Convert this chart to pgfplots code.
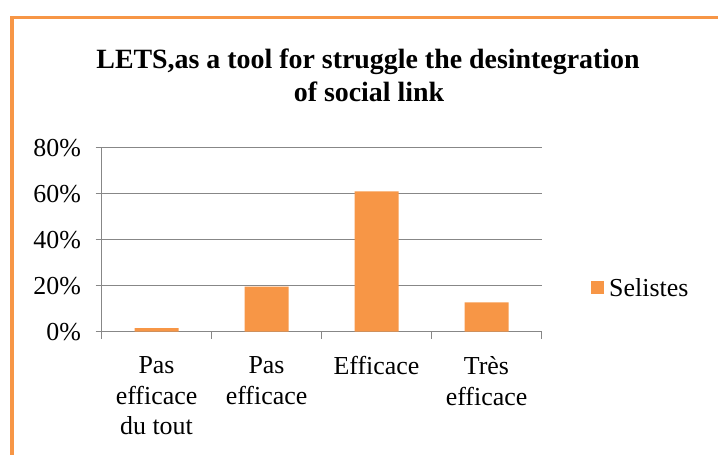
\documentclass[border=0pt]{standalone}
\usepackage{pgfplots}
\pgfplotsset{compat=1.18}
\usepackage{fontspec}
\setmainfont{Liberation Serif}
\definecolor{barorange}{HTML}{F79646}
\definecolor{gridgray}{HTML}{878787}

\begin{document}
\begin{tikzpicture}[x=1bp,y=1bp]
\path[use as bounding box] (0,0) rectangle (718,455);
% orange frame (only top and left edges visible)
\draw[barorange, line width=3bp] (12,437.5) -- (730,437.5);
\draw[barorange, line width=4.5bp] (12,-5) -- (12,439);
% title
\node[anchor=base, font=\fontsize{28}{33}\selectfont\bfseries, inner sep=0] at (368,386) {LETS,as a tool for struggle the desintegration};
\node[anchor=base, font=\fontsize{28}{33}\selectfont\bfseries, inner sep=0] at (369,353) {of social link};

\begin{axis}[
	at={(101.5bp,123.3bp)}, anchor=south west,
	scale only axis,
	width=440bp, height=184bp,
	xmin=-0.5, xmax=3.5,
	ymin=0, ymax=80,
	axis lines*=left,
	axis line style={gridgray, line width=1.2bp},
	ytick={0,20,40,60,80},
	yticklabel={\pgfmathprintnumber{\tick}\%},
	ymajorgrids=true,
	grid style={gridgray, line width=1.2bp},
	tick align=outside,
	major tick length=6bp,
	minor tick length=7bp,
	major y tick style={gridgray, line width=1.2bp},
	major x tick style={draw=none},
	minor x tick style={gridgray, line width=1.2bp},
	xtick={0,1,2,3},
	minor xtick={-0.5,0.5,1.5,2.5,3.5},
	xticklabels={{Pas\\efficace\\du tout},{Pas\\efficace},{Efficace},{Très\\efficace}},
	xticklabel style={align=center, anchor=north, yshift=-15bp, font=\fontsize{26}{31}\selectfont},
	yticklabel style={xshift=-11bp, font=\fontsize{26}{31}\selectfont},
	/pgf/number format/assume math mode=true,
	legend style={at={(1.1125,0.2375)}, anchor=west, draw=none, inner sep=0pt,
		column sep=3bp, font=\fontsize{26}{31}\selectfont},
	legend image code/.code={\fill[barorange] (0bp,-6.5bp) rectangle (13bp,6.5bp);},
]
	\addplot[ybar, bar width=0.4, fill=barorange, draw=none] coordinates {
		(0,1.5)
		(1,19.6)
		(2,61)
		(3,12.8)};
	\addlegendentry{Selistes}
\end{axis}
\end{tikzpicture}
\end{document}
